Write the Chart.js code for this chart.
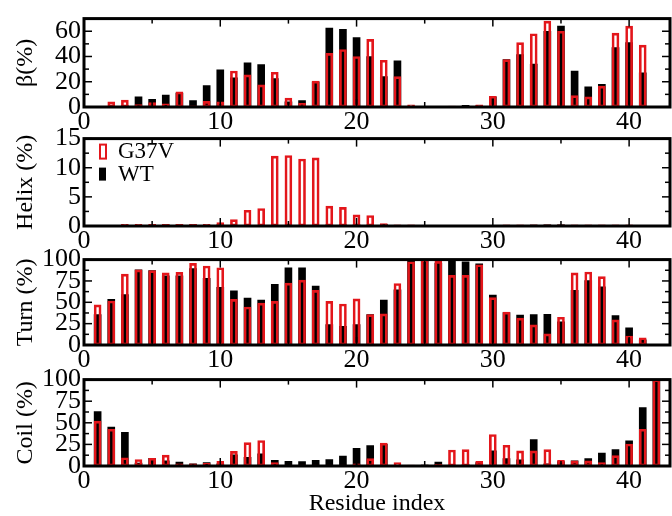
<!DOCTYPE html>
<html>
<head>
<meta charset="utf-8">
<script src="https://cdn.jsdelivr.net/npm/chart.js@4.4.1/dist/chart.umd.min.js"></script>
<style>
	html, body { margin: 0; padding: 0; background: #fff; }
	#wrap { position: relative; width: 672px; height: 516px; overflow: hidden; }
	.panel { position: absolute; left: 0; width: 672px; }
	.panel canvas { display: block; }
</style>
</head>
<body>
<div id="wrap">
	<div class="panel" id="p0"><canvas id="betaChart"></canvas></div>
	<div class="panel" id="p1"><canvas id="helixChart"></canvas></div>
	<div class="panel" id="p2"><canvas id="turnChart"></canvas></div>
	<div class="panel" id="p3"><canvas id="coilChart"></canvas></div>
</div>
<script>
// residue numbers (x positions of the bars)
const residues = [1, 2, 3, 4, 5, 6, 7, 8, 9, 10, 11, 12, 13, 14, 15, 16, 17, 18, 19, 20, 21,
	22, 23, 24, 25, 26, 27, 28, 29, 30, 31, 32, 33, 34, 35, 36, 37, 38, 39, 40, 41, 42];

// beta-sheet content (%)
const betaWT = [0, 0, 1, 8, 6, 9.5, 11, 5, 17, 29.5, 23, 35, 33.5, 22.5, 4, 5, 20, 62.5, 61.5, 55, 40,
	24, 36.5, 0, 0, 0, 0, 1.3, 1, 8, 37.5, 41.5, 34, 60, 64, 28.5, 16, 18, 47, 51, 27, 0];
const betaG37V = [0, 4, 5.5, 2, 3.5, 2.5, 12, 1, 4.5, 4, 28.5, 25.5, 17.5, 27.5, 7, 3, 20.5, 42.5, 45.5, 40, 53.5,
	37, 24, 1.8, 0, 0, 0.8, 0, 1.8, 8.5, 37.5, 51, 58, 68, 60, 9, 8, 16.5, 58.5, 64, 49, 0];

// helix content (%)
const helixWT = [0, 0, 0, 0, 0.15, 0.2, 0.2, 0.2, 0.1, 0.2, 0, 0, 0, 0, 0, 0, 0, 0.2, 0.2, 0.2, 0.15,
	0.3, 0, 0, 0, 0, 0, 0, 0, 0, 0, 0, 0.15, 0.2, 0.2, 0, 0, 0, 0, 0, 0, 0];
const helixG37V = [0, 0, 0.3, 0.3, 0.3, 0.3, 0.3, 0.3, 0.3, 0.6, 1.1, 2.7, 3.0, 12, 12.1, 11.5, 11.7, 3.4, 3.2, 1.9, 1.8,
	0.4, 0.2, 0.2, 0, 0, 0, 0, 0, 0, 0.2, 0.2, 0.2, 0.2, 0.2, 0.2, 0.2, 0.2, 0.2, 0.2, 0, 0];

// turn content (%)
const turnWT = [35.5, 53.5, 59, 88, 87, 81, 81, 89.5, 78, 67.5, 63.5, 55, 52.5, 71, 90.5, 90.5, 69, 24, 22, 24, 35.5,
	52.5, 64.5, 100, 100, 96, 100, 97.5, 95, 58.5, 38, 35, 35.5, 36, 27, 64, 75.5, 68, 34.5, 20, 6, 0];
const turnG37V = [47, 51.5, 83, 88, 87, 84.5, 85, 95.5, 92.5, 90.5, 53.5, 44.5, 49, 51, 72.5, 76, 64, 51, 48, 54, 35.5,
	36.5, 72, 97.5, 100, 98, 81.5, 81.5, 94, 55.5, 38.5, 31.5, 23.5, 13, 32.5, 84.5, 85.5, 80, 29.5, 10.5, 8.5, 0];

// coil content (%)
const coilWT = [63, 45, 39, 3.5, 9, 6, 4.5, 2.5, 4, 2.5, 13, 10, 14, 6.5, 5.5, 5, 6.5, 7.5, 11.5, 20.5, 23.5,
	25, 0, 0.5, 1, 4.5, 1, 1.5, 4, 17.5, 8.5, 7, 30.5, 2.5, 5, 6, 8.5, 15, 19, 29, 67.5, 100];
const coilG37V = [52, 42.5, 9.5, 7.5, 9, 12.5, 2.5, 2.5, 3, 5.5, 17, 27, 29.5, 4, 1, 1, 1, 1, 1, 2.5, 8.5,
	26.5, 4, 1, 1, 2, 18.5, 19, 5.5, 36.5, 24, 17.5, 17.5, 19, 6.5, 6, 6, 4, 12, 25.5, 42.5, 100];

// axis ticks
const xTicks = [0, 10, 20, 30, 40];
const xMinorTicks = [5, 15, 25, 35];
const betaTicks = [0, 20, 40, 60];
const betaMinorTicks = [10, 30, 50];
const helixTicks = [0, 5, 10, 15];
const helixMinorTicks = [2.5, 7.5, 12.5];
const pctTicks = [0, 25, 50, 75, 100];
const pctMinorTicks = [12.5, 37.5, 62.5, 87.5];

const seriesNames = ["G37V", "WT"];
const RED = "#e3161b";
const FONT = "'Liberation Serif', 'Times New Roman', serif";

/**
 * Frame around the plot area with inward ticks on all four sides
 */
function makeFrame(yMajor, yMinor) {
	return {
		id: "frameTicks",
		afterDatasetsDraw(chart) {
			const { ctx, chartArea: a, scales } = chart;
			const line = (x1, y1, x2, y2) => {
				ctx.beginPath();
				ctx.moveTo(x1, y1);
				ctx.lineTo(x2, y2);
				ctx.stroke();
			};
			ctx.save();
			ctx.strokeStyle = "#000";
			ctx.lineWidth = 1.5;
			const xTick = (v, len) => {
				const px = scales.x.getPixelForValue(v);
				line(px, a.bottom, px, a.bottom - len);
				line(px, a.top, px, a.top + len);
			};
			const yTick = (v, len) => {
				const py = scales.y.getPixelForValue(v);
				line(a.left, py, a.left + len, py);
				line(a.right, py, a.right - len, py);
			};
			xTicks.forEach((v) => xTick(v, 8));
			xMinorTicks.forEach((v) => xTick(v, 5));
			yMajor.forEach((v) => yTick(v, 8));
			yMinor.forEach((v) => yTick(v, 5));
			ctx.lineWidth = 3;
			ctx.strokeRect(a.left, a.top, a.right - a.left, a.bottom - a.top);
			ctx.restore();
		},
	};
}

/**
 * Small legend drawn inside the plot area (helix panel only)
 */
const innerLegend = {
	id: "innerLegend",
	afterDraw(chart) {
		const { ctx, chartArea: a } = chart;
		ctx.save();
		// G37V: red outline box
		ctx.strokeStyle = RED;
		ctx.lineWidth = 2;
		ctx.strokeRect(a.left + 16, a.top + 6, 6, 14);
		// WT: black filled box
		ctx.fillStyle = "#000";
		ctx.fillRect(a.left + 15, a.top + 29, 7, 13);
		ctx.font = "23px " + FONT;
		ctx.textBaseline = "middle";
		ctx.fillText(seriesNames[0], a.left + 34, a.top + 13);
		ctx.fillText(seriesNames[1], a.left + 34, a.top + 36);
		ctx.restore();
	},
};

function points(values) {
	return residues.map((r, i) => ({ x: r, y: values[i] }));
}

function drawPanel(id, box, wt, g37v, yMax, yTicks, yMinor, yTitle, opts) {
	const canvas = document.getElementById(id);
	const height = box.padTop + box.plotH + box.xh;
	canvas.width = 672;
	canvas.height = height;
	canvas.parentNode.style.top = box.top + "px";
	canvas.parentNode.style.height = height + "px";

	const tickFont = { family: FONT, size: 26 };
	const plugins = [makeFrame(yTicks, yMinor)];
	if (opts.legend) plugins.push(innerLegend);

	return new Chart(canvas, {
		type: "bar",
		data: {
			datasets: [
				{
					label: seriesNames[0],
					data: points(g37v),
					backgroundColor: "rgba(0,0,0,0)",
					borderColor: RED,
					borderWidth: 2,
					borderSkipped: false,
					barThickness: 7,
					grouped: false,
				},
				{
					label: seriesNames[1],
					data: points(wt),
					backgroundColor: "#000",
					borderWidth: 0,
					barThickness: 7,
					grouped: false,
				},
			],
		},
		options: {
			responsive: false,
			animation: false,
			devicePixelRatio: 1,
			layout: { padding: { top: box.padTop, right: 2, left: 0, bottom: 0 } },
			plugins: {
				legend: { display: false },
				tooltip: { enabled: false },
			},
			scales: {
				x: {
					type: "linear",
					min: 0,
					max: 43,
					offset: false,
					grid: { display: false, drawTicks: false, offset: false },
					border: { display: false },
					afterBuildTicks: (s) => {
						s.ticks = xTicks.map((v) => ({ value: v }));
					},
					afterFit: (s) => {
						s.height = box.xh;
					},
					ticks: { font: tickFont, color: "#000", padding: 0, maxRotation: 0, autoSkip: false },
					title: {
						display: !!opts.xTitle,
						text: opts.xTitle || "",
						color: "#000",
						font: { family: FONT, size: 24, lineHeight: 1 },
						padding: { top: 0, bottom: 0 },
					},
				},
				y: {
					min: 0,
					max: yMax,
					grid: { display: false, drawTicks: false },
					border: { display: false },
					afterBuildTicks: (s) => {
						s.ticks = yTicks.map((v) => ({ value: v }));
					},
					afterFit: (s) => {
						s.width = 84;
					},
					ticks: { font: tickFont, color: "#000", padding: 3, autoSkip: false },
					title: {
						display: true,
						text: yTitle,
						color: "#000",
						font: { family: FONT, size: 24, lineHeight: 1 },
						padding: { top: 14, bottom: 0 },
					},
				},
			},
		},
		plugins: plugins,
	});
}

drawPanel("betaChart", { top: 0, padTop: 15, plotH: 92, xh: 30 },
	betaWT, betaG37V, 70, betaTicks, betaMinorTicks, "β(%)", {});
drawPanel("helixChart", { top: 120, padTop: 16, plotH: 90, xh: 30 },
	helixWT, helixG37V, 15, helixTicks, helixMinorTicks, "Helix (%)", { legend: true });
drawPanel("turnChart", { top: 241, padTop: 16, plotH: 88, xh: 30 },
	turnWT, turnG37V, 100, pctTicks, pctMinorTicks, "Turn (%)", {});
drawPanel("coilChart", { top: 361, padTop: 16, plotH: 89, xh: 50 },
	coilWT, coilG37V, 100, pctTicks, pctMinorTicks, "Coil (%)", { xTitle: "Residue index" });
</script>
</body>
</html>
